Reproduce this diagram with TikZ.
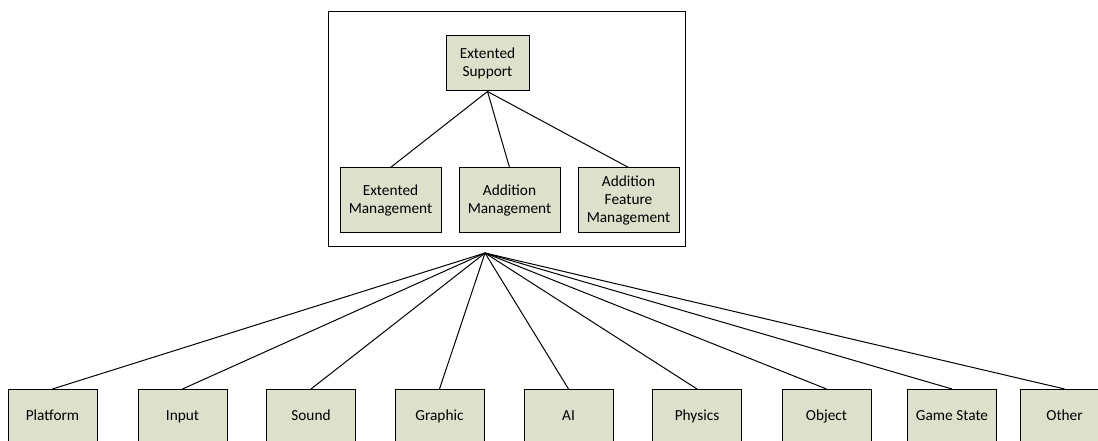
\documentclass[tikz,border=0pt]{standalone}
\usepackage{fontspec}
\setmainfont{Carlito}
\definecolor{boxfill}{RGB}{221,224,203}
\begin{document}
\begin{tikzpicture}[x=0.75pt, y=-0.75pt,
  every node/.style={font=\fontsize{11.5}{13.7}\selectfont, align=center, inner sep=0pt},
  module/.style={draw=black, line width=0.75pt, fill=boxfill,
    minimum width=66.75pt, minimum height=40.9pt, text height=8pt, text depth=2.5pt},
  submodule/.style={draw=black, line width=0.75pt, fill=boxfill,
    minimum width=75.75pt, minimum height=48.75pt},
  topmodule/.style={draw=black, line width=0.75pt, fill=boxfill,
    minimum width=62.25pt, minimum height=41.25pt},
  group/.style={draw=black, line width=0.75pt, minimum width=267.75pt, minimum height=176.25pt},
  link/.style={draw=black, line width=0.75pt}]
  \useasboundingbox (0,0) rectangle (1098,441);
  \clip (0,0) rectangle (1098,441);

  % extended support group
  \node[group] (grp) at (506.5,129.5) {};
  \node[topmodule] (es) at (487.5,63.5) {Extented\\Support};
  \node[submodule] (em) at (390.5,200.5) {Extented\\Management};
  \node[submodule] (am) at (509.5,200.5) {Addition\\Management};
  \node[submodule] (afm) at (628.5,200.5) {Addition\\Feature\\Management};
  \foreach \c in {em,am,afm} \draw[link] (es.south) -- (\c.north);

  % fan-out point under the group
  \coordinate (hub) at (485,253);

  % engine modules
  \node[module] (platform) at (52.5,416.75) {Platform};
  \node[module] (input) at (182.5,416.75) {Input};
  \node[module] (sound) at (311,416.75) {Sound};
  \node[module] (graphic) at (439.5,416.75) {Graphic};
  \node[module] (ai) at (568.5,416.75) {AI};
  \node[module] (physics) at (697,416.75) {Physics};
  \node[module] (object) at (826.5,416.75) {Object};
  \node[module] (gamestate) at (952,416.75) {Game State};
  \node[module] (other) at (1064.5,416.75) {Other};

  \foreach \m in {platform,input,sound,graphic,ai,physics,object,gamestate,other}
    \draw[link] (hub) -- (\m.north);
\end{tikzpicture}
\end{document}
